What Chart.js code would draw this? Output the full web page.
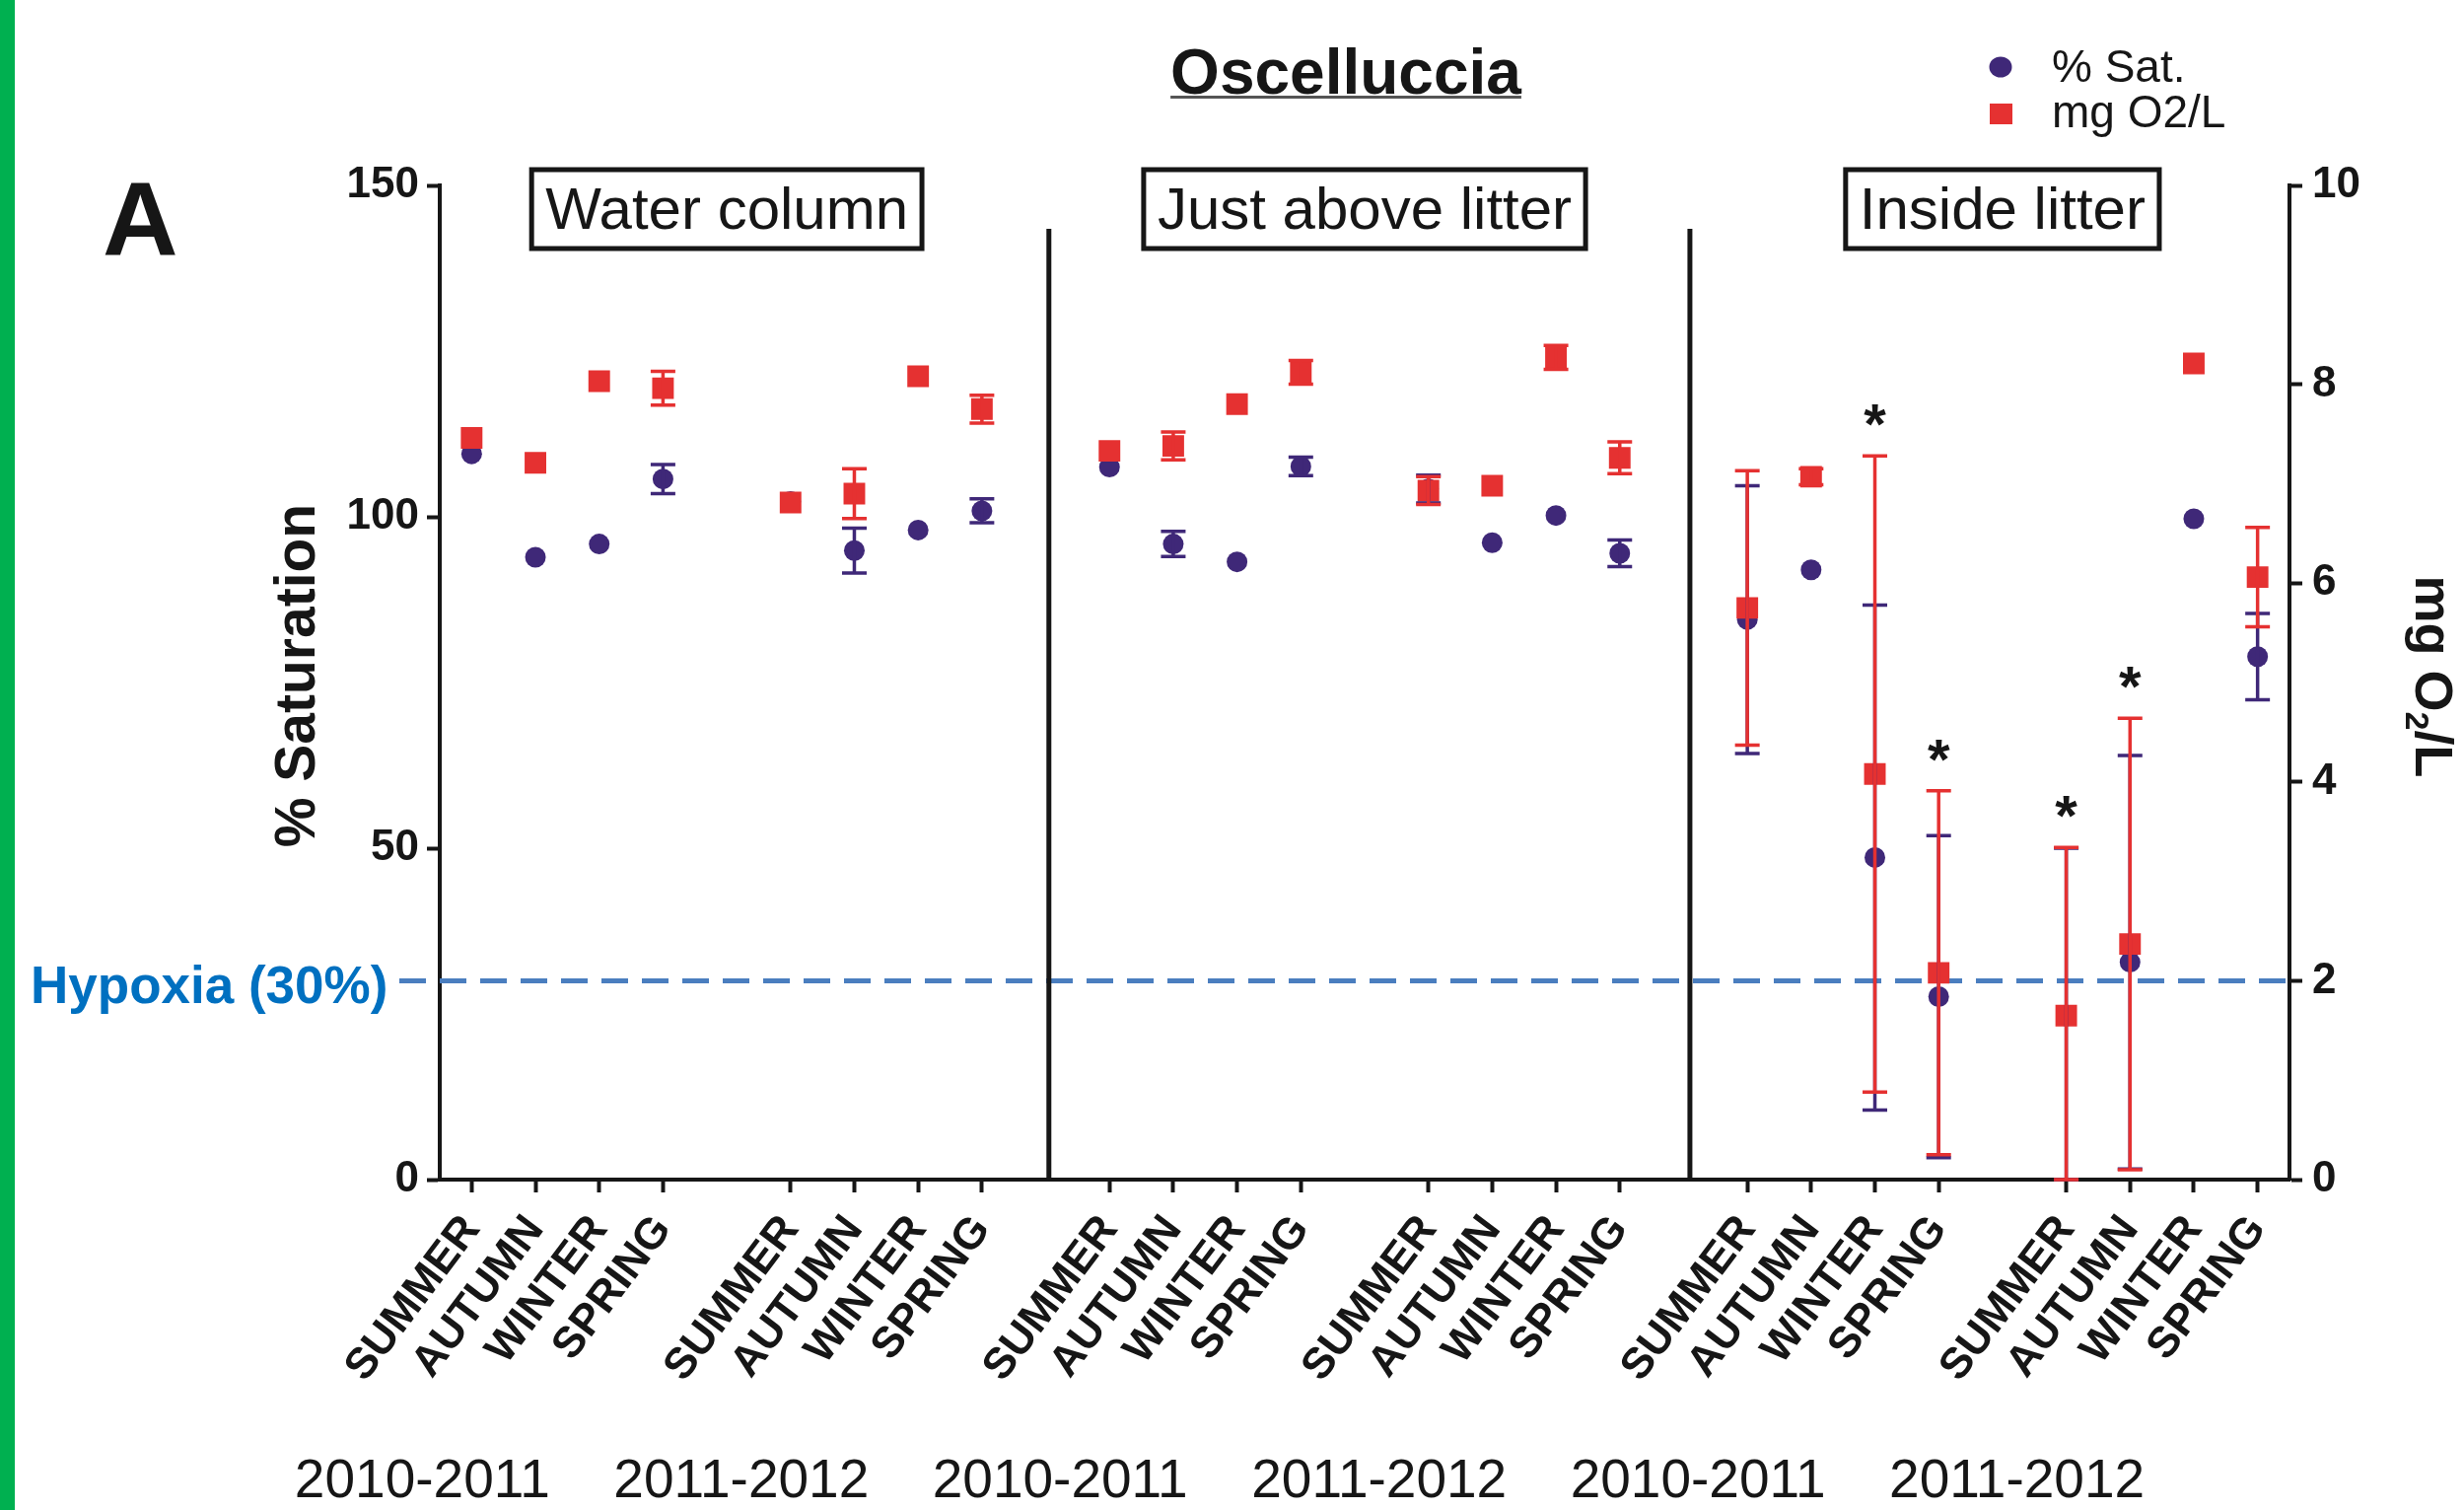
<!DOCTYPE html>
<html>
<head>
<meta charset="utf-8">
<script src="https://cdn.jsdelivr.net/npm/chart.js@4.4.1/dist/chart.umd.min.js"></script>
<style>
  html, body { margin: 0; padding: 0; background: #fff; }
  #wrap { position: relative; width: 2499px; height: 1531px; background: #fff; }
  #strip { position: absolute; left: 0; top: 0; width: 15px; height: 1531px; background: #00b050; }
</style>
</head>
<body>
<div id="wrap">
  <canvas id="oxyChart" width="2499" height="1531"></canvas>
  <div id="strip"></div>
</div>
<script>
/* Oscelluccia dissolved oxygen, panel A */
const seasons = ['SUMMER', 'AUTUMN', 'WINTER', 'SPRING'];
const yearLabels = ['2010-2011', '2011-2012', '2010-2011', '2011-2012', '2010-2011', '2011-2012'];
const sectionTitles = ['Water column', 'Just above litter', 'Inside litter'];

// % saturation (left axis), mean and error, 6 groups x 4 seasons
const satMean = [109.5, 93.9, 95.9, 105.7,  102.3, 94.9, 98.0, 100.9,
                 107.5, 95.9, 93.2, 107.6,  104.2, 96.1, 100.2, 94.5,
                 84.5, 92.0, 48.6, 27.6,    24.7, 32.8, 99.7, 78.9];
const satErr  = [0, 0, 0, 2.2,   0, 3.4, 0, 1.8,
                 0, 1.9, 0, 1.4, 2.1, 0, 0, 2.0,
                 20.2, 0, 38.1, 24.3,  25.3, 31.2, 0, 6.5];

// mg O2/L (right axis), mean and error
const mgMean = [7.46, 7.21, 8.03, 7.96,  6.81, 6.90, 8.08, 7.75,
                7.33, 7.38, 7.80, 8.12,  6.93, 6.98, 8.27, 7.26,
                5.75, 7.07, 4.08, 2.08,  1.65, 2.37, 8.21, 6.06];
const mgErr  = [0, 0, 0, 0.17,  0, 0.25, 0, 0.14,
                0, 0.14, 0, 0.12,  0.14, 0, 0.12, 0.16,
                1.38, 0.08, 3.20, 1.83,  1.69, 2.27, 0, 0.50];

// points flagged with an asterisk (index into the 24 values)
const starred = [18, 19, 20, 21];
const hypoxiaLevel = 30;

const FONT = "'Liberation Sans', Arial, sans-serif";
const INK = '#161616';
const SAT_COLOR = '#3f2878';
const MG_COLOR = '#e53131';

// spread 24 values over 29 category slots (one empty slot between groups)
const labels = [];
const slotOf = [];
yearLabels.forEach((y, g) => {
  if (g > 0) labels.push('');
  seasons.forEach(s => { slotOf.push(labels.length); labels.push(s); });
});
function spread(arr) {
  const out = labels.map(() => null);
  arr.forEach((v, i) => { out[slotOf[i]] = v; });
  return out;
}

const errorBars = {
  id: 'errorBars',
  afterDatasetsDraw(chart) {
    const ctx = chart.ctx;
    const xs = chart.scales.x;
    const sets = [
      { mean: satMean, err: satErr, scale: chart.scales.y, color: SAT_COLOR },
      { mean: mgMean, err: mgErr, scale: chart.scales.y2, color: MG_COLOR }
    ];
    ctx.save();
    sets.forEach(s => {
      ctx.strokeStyle = s.color;
      ctx.lineWidth = 3.5;
      s.mean.forEach((v, i) => {
        const e = s.err[i];
        if (!e) return;
        const x = xs.getPixelForValue(slotOf[i]);
        const lo = Math.max(s.scale.min, v - e);
        const hi = Math.min(s.scale.max, v + e);
        const yl = s.scale.getPixelForValue(lo);
        const yh = s.scale.getPixelForValue(hi);
        ctx.beginPath();
        ctx.moveTo(x, yl); ctx.lineTo(x, yh);
        ctx.moveTo(x - 12.5, yl); ctx.lineTo(x + 12.5, yl);
        ctx.moveTo(x - 12.5, yh); ctx.lineTo(x + 12.5, yh);
        ctx.stroke();
      });
    });
    ctx.restore();
  }
};

const decor = {
  id: 'decor',
  beforeDatasetsDraw(chart) {
    const ctx = chart.ctx;
    const area = chart.chartArea;
    const xs = chart.scales.x;
    const ys = chart.scales.y;
    ctx.save();
    // hypoxia threshold
    const yh = ys.getPixelForValue(hypoxiaLevel);
    ctx.strokeStyle = '#4a7ebf';
    ctx.lineWidth = 5;
    ctx.setLineDash([27, 14]);
    ctx.beginPath();
    ctx.moveTo(405, yh);
    ctx.lineTo(area.right, yh);
    ctx.stroke();
    ctx.setLineDash([]);
    // section separators
    ctx.strokeStyle = INK;
    ctx.lineWidth = 5;
    [9.05, 19.1].forEach(v => {
      const x = xs.getPixelForValue(v);
      ctx.beginPath();
      ctx.moveTo(x, 232);
      ctx.lineTo(x, area.bottom);
      ctx.stroke();
    });
    ctx.restore();
  },
  afterDraw(chart) {
    const ctx = chart.ctx;
    const xs = chart.scales.x;
    const y2 = chart.scales.y2;
    ctx.save();
    ctx.fillStyle = INK;
    ctx.textBaseline = 'alphabetic';

    // panel letter
    ctx.font = 'bold 106px ' + FONT;
    ctx.textAlign = 'left';
    ctx.fillText('A', 104, 259);

    // title, underlined
    ctx.font = 'bold 64px ' + FONT;
    ctx.textAlign = 'center';
    ctx.fillText('Oscelluccia', 1365, 95);
    const tw = ctx.measureText('Oscelluccia').width;
    ctx.fillStyle = '#555';
    ctx.fillRect(1365 - tw / 2, 97, tw, 3);
    ctx.fillStyle = INK;

    // legend
    ctx.fillStyle = SAT_COLOR;
    ctx.beginPath();
    ctx.ellipse(2029, 68, 11.5, 10.5, 0, 0, Math.PI * 2);
    ctx.fill();
    ctx.fillStyle = MG_COLOR;
    ctx.fillRect(2018, 105, 23, 21);
    ctx.fillStyle = INK;
    ctx.font = '46px ' + FONT;
    ctx.textAlign = 'left';
    ctx.fillText('% Sat.', 2081, 83);
    ctx.fillText('mg O2/L', 2081, 129);

    // section boxes
    ctx.font = '60px ' + FONT;
    ctx.textAlign = 'center';
    ctx.lineWidth = 5;
    ctx.strokeStyle = INK;
    sectionTitles.forEach((t, k) => {
      const cx = xs.getPixelForValue(4 + 10 * k);
      const w = ctx.measureText(t).width + 28;
      ctx.strokeRect(cx - w / 2, 172, w, 80);
      ctx.fillText(t, cx, 232);
    });

    // year labels under each group
    ctx.font = '55px ' + FONT;
    yearLabels.forEach((t, g) => {
      const x = xs.getPixelForValue(slotOf[g * 4]) - 50;
      ctx.fillText(t, x, 1518);
    });

    // hypoxia label
    ctx.fillStyle = '#0070c0';
    ctx.font = 'bold 53px ' + FONT;
    ctx.textAlign = 'left';
    ctx.fillText('Hypoxia (30%)', 31, 1017);
    ctx.fillStyle = INK;

    // asterisks above the mg error bars
    ctx.font = 'bold 58px ' + FONT;
    ctx.textAlign = 'center';
    starred.forEach(i => {
      const x = xs.getPixelForValue(slotOf[i]);
      const top = y2.getPixelForValue(Math.min(y2.max, mgMean[i] + mgErr[i]));
      ctx.fillText('*', x, top - 12);
    });

    // left axis title
    ctx.save();
    ctx.translate(319, 685);
    ctx.rotate(-Math.PI / 2);
    ctx.font = 'bold 57px ' + FONT;
    ctx.textAlign = 'center';
    ctx.fillText('% Saturation', 0, 0);
    ctx.restore();

    // right axis title with subscript
    ctx.save();
    ctx.translate(2450, 686);
    ctx.rotate(Math.PI / 2);
    const big = 'bold 54px ' + FONT;
    const small = 'bold 34px ' + FONT;
    ctx.font = big;
    const w1 = ctx.measureText('mg O').width;
    const w3 = ctx.measureText('/L').width;
    ctx.font = small;
    const w2 = ctx.measureText('2').width;
    const x0 = -(w1 + w2 + w3) / 2;
    ctx.textAlign = 'left';
    ctx.font = big;
    ctx.fillText('mg O', x0, 0);
    ctx.font = small;
    ctx.fillText('2', x0 + w1, 10);
    ctx.font = big;
    ctx.fillText('/L', x0 + w1 + w2, 0);
    ctx.restore();

    ctx.restore();
  }
};

const tickFont = { family: FONT, size: 44, weight: 'bold' };

new Chart(document.getElementById('oxyChart'), {
  type: 'line',
  data: {
    labels: labels,
    datasets: [
      {
        label: '% Sat.',
        data: spread(satMean),
        yAxisID: 'y',
        showLine: false,
        pointStyle: 'circle',
        pointRadius: 10.5,
        pointBackgroundColor: SAT_COLOR,
        pointBorderColor: SAT_COLOR,
        pointBorderWidth: 0,
        order: 1
      },
      {
        label: 'mg O2/L',
        data: spread(mgMean),
        yAxisID: 'y2',
        showLine: false,
        pointStyle: 'rect',
        pointRadius: 15.5,
        pointBackgroundColor: MG_COLOR,
        pointBorderColor: MG_COLOR,
        pointBorderWidth: 0,
        order: 0
      }
    ]
  },
  options: {
    responsive: false,
    animation: false,
    devicePixelRatio: 1,
    layout: { padding: { top: 188, left: 0, right: 0, bottom: 0 } },
    plugins: {
      legend: { display: false },
      tooltip: { enabled: false },
      title: { display: false }
    },
    scales: {
      x: {
        type: 'category',
        offset: true,
        grid: {
          drawOnChartArea: false,
          drawTicks: true,
          tickLength: 13,
          tickWidth: 4,
          tickColor: c => (labels[c.index] ? INK : 'rgba(0,0,0,0)')
        },
        border: { display: true, color: INK, width: 4 },
        ticks: {
          autoSkip: false,
          minRotation: 53,
          maxRotation: 53,
          padding: 14,
          color: INK,
          font: { family: FONT, size: 44, weight: 'bold' }
        },
        afterFit: s => { s.height = 1531 - 1196; }
      },
      y: {
        position: 'left',
        min: 0,
        max: 150,
        grid: { drawOnChartArea: false, tickLength: 13, tickWidth: 4, tickColor: INK },
        border: { display: true, color: INK, width: 4 },
        ticks: { stepSize: 50, padding: 8, color: INK, font: tickFont },
        afterFit: s => { s.width = 446; }
      },
      y2: {
        position: 'right',
        min: 0,
        max: 10,
        grid: { drawOnChartArea: false, tickLength: 13, tickWidth: 4, tickColor: INK },
        border: { display: true, color: INK, width: 4 },
        ticks: { stepSize: 2, padding: 10, color: INK, font: tickFont },
        afterFit: s => { s.width = 2499 - 2322; }
      }
    }
  },
  plugins: [decor, errorBars]
});
</script>
</body>
</html>
